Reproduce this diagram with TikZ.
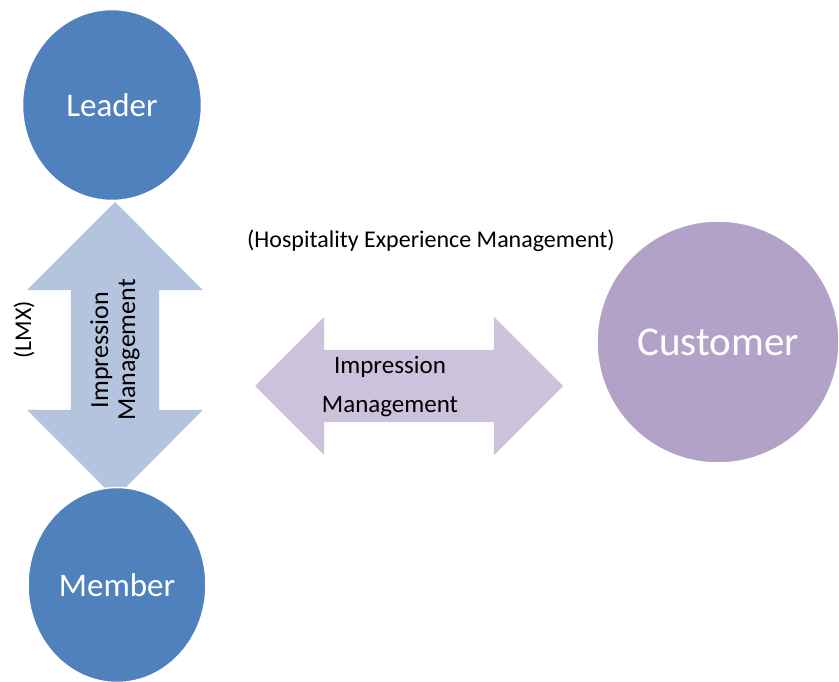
\documentclass[tikz,border=0pt]{standalone}
\usepackage{fontspec}
\setmainfont{Carlito}
\usetikzlibrary{shapes}
\definecolor{personblue}{HTML}{4F81BD}
\definecolor{lmxblue}{HTML}{B4C3DE}
\definecolor{hemlilac}{HTML}{CCC2DB}
\definecolor{guestlilac}{HTML}{B2A2C7}

\begin{document}
\begin{tikzpicture}[x=1pt,y=-1pt,
      person/.style={ellipse,inner sep=0pt,draw=white,line width=1.5pt,
        fill=personblue,text=white,font=\fontsize{33}{38}\selectfont},
      link/.style={double arrow,double arrow head extend=#1,inner xsep=0pt},
      remark/.style={inner sep=0pt,font=\fontsize{24}{28}\selectfont}]
    \useasboundingbox (0,0) rectangle (839,682);
    \node[link=44pt,inner ysep=44pt,fill=lmxblue,minimum height=296pt,
      rotate=90] (lmx) at (115,350) {};
    \node[link=33pt,inner ysep=36pt,fill=hemlilac,minimum height=308pt]
      (hem) at (409,386) {};
    \node[person,minimum width=179pt,minimum height=191pt] (leader) at (112,105) {Leader};
    \node[person,minimum width=178pt,minimum height=195pt] (member) at (117,585) {Member};
    \node[person,fill=guestlilac,minimum width=242pt,minimum height=242pt,
      font=\fontsize{41}{48}\selectfont] (customer) at (718,342) {Customer};
    \node[remark,rotate=90,align=center,font=\fontsize{26}{27}\selectfont]
      (lmxtext) at (lmx.center) {Impression\\Management};
    \node[remark,align=center,font=\fontsize{25}{39}\selectfont]
      (hemtext) at ([xshift=-19pt,yshift=-1pt]hem.center) {Impression\\Management};
    \node[remark,rotate=90] (lmxname) at (24,330) {(LMX)};
    \node[remark] (hemname) at (431,241) {(Hospitality Experience Management)};
\end{tikzpicture}
\end{document}
